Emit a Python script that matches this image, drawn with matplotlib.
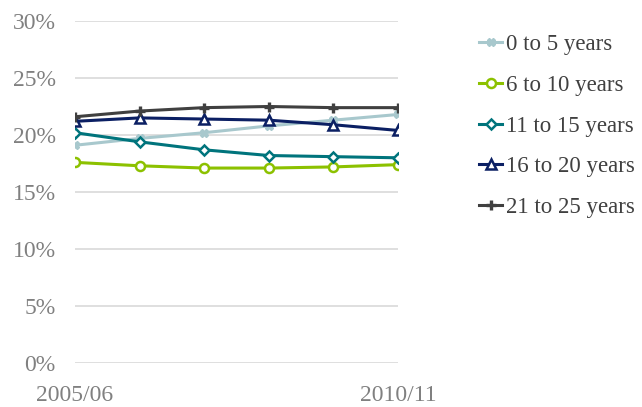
import matplotlib
matplotlib.use('Agg')
import matplotlib.pyplot as plt
from matplotlib.ticker import FuncFormatter

years = ['2005/06', '2006/07', '2007/08', '2008/09', '2009/10', '2010/11']
shown_labels = ['2005/06', '', '', '', '', '2010/11']

age_0_5 = [19.1, 19.7, 20.2, 20.8, 21.3, 21.8]
age_6_10 = [17.6, 17.3, 17.1, 17.1, 17.2, 17.4]
age_11_15 = [20.2, 19.4, 18.7, 18.2, 18.1, 18.0]
age_16_20 = [21.2, 21.5, 21.4, 21.3, 20.9, 20.4]
age_21_25 = [21.6, 22.1, 22.4, 22.5, 22.4, 22.4]

plt.rcParams['font.family'] = 'Liberation Serif'

fig = plt.figure(figsize=(6.42, 4.07), dpi=100)
ax = fig.add_axes([75 / 642, 44 / 407, 323 / 642, 342 / 407])

x = list(range(len(years)))
lw = 2.2
ax.plot(x, age_0_5, color='#a8c8cd', lw=lw, marker='X', ms=6, mec='#a8c8cd',
        mfc='#a8c8cd', label='0 to 5 years', zorder=3)
ax.plot(x, age_6_10, color='#8cc100', lw=lw, marker='o', ms=6.5, mec='#8cc100',
        mfc='white', mew=1.8, label='6 to 10 years', zorder=3)
ax.plot(x, age_11_15, color='#00747c', lw=lw, marker='D', ms=5.5, mec='#00747c',
        mfc='white', mew=1.8, label='11 to 15 years', zorder=3)
ax.plot(x, age_16_20, color='#0b1f63', lw=lw, marker='^', ms=6.5, mec='#0b1f63',
        mfc='white', mew=1.8, label='16 to 20 years', zorder=3)
ax.plot(x, age_21_25, color='#404040', lw=lw, marker='+', ms=7, mec='#404040',
        mew=2.4, label='21 to 25 years', zorder=3)

ax.set_xlim(0, len(years) - 1)
ax.set_ylim(0, 30)
ax.set_yticks([0, 5, 10, 15, 20, 25, 30])
ax.yaxis.set_major_formatter(FuncFormatter(lambda v, p: f'{v:.0f}%'))
ax.set_xticks(x)
ax.set_xticklabels(shown_labels)
ax.grid(axis='y', color='#d9d9d9', lw=1.2)
ax.set_axisbelow(True)
for s in ax.spines.values():
    s.set_visible(False)
ax.tick_params(axis='both', length=0, labelsize=17, colors='#808080')
ax.tick_params(axis='y', pad=14)
ax.tick_params(axis='x', pad=16)

leg = fig.legend(loc='upper left', bbox_to_anchor=(470 / 642, 1 - 25 / 407),
                 frameon=False, fontsize=16.5, handlelength=1.0, handletextpad=0.15,
                 labelspacing=0.86, borderaxespad=0)
for t in leg.get_texts():
    t.set_color('#404040')

fig.savefig('out.png', dpi=100)
